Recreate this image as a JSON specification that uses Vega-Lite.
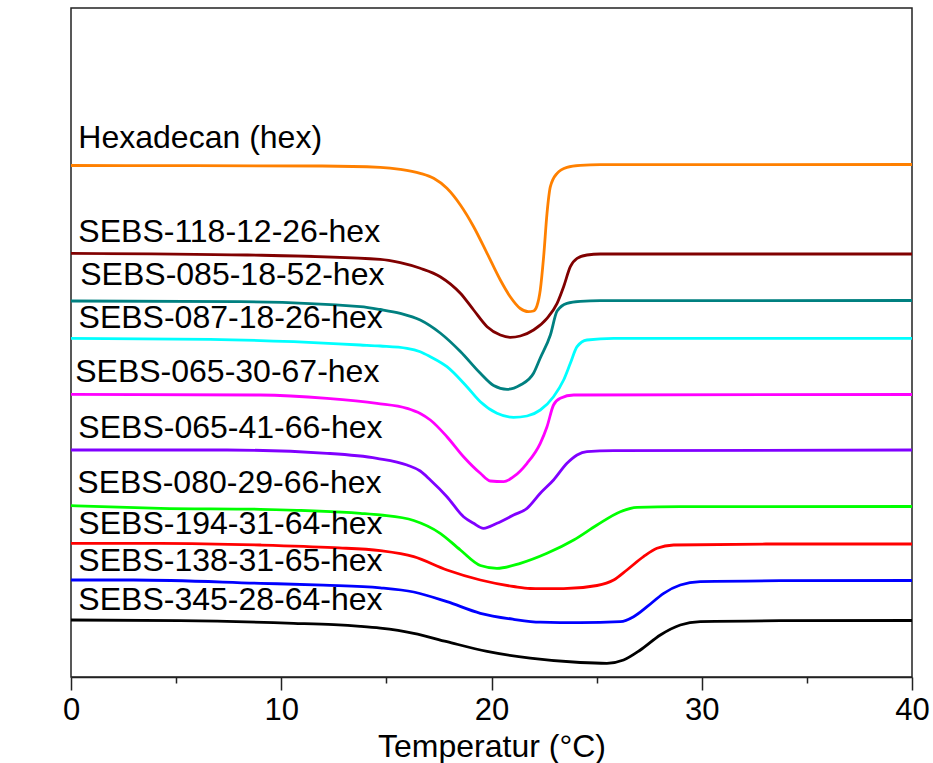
{
  "$schema": "https://vega.github.io/schema/vega-lite/v6.json",
  "width": 841,
  "height": 669,
  "autosize": {"type": "none"},
  "padding": {"left": 71, "top": 8, "right": 21, "bottom": 86},
  "background": "white",
  "config": {
    "view": {"stroke": "#222222", "strokeWidth": 1.5},
    "font": "Liberation Sans",
    "axis": {"grid": false, "domainColor": "#222222", "domainWidth": 1.5, "tickColor": "#222222", "tickWidth": 1.5}
  },
  "datasets": {
    "curves": [
      {"series": "hex", "t": 0, "v": 511.5}, {"series": "hex", "t": 5.2, "v": 511.3}, {"series": "hex", "t": 11.95, "v": 511}, {"series": "hex", "t": 14.71, "v": 509.7}, {"series": "hex", "t": 15.66, "v": 507.7}, {"series": "hex", "t": 16.61, "v": 503.7}, {"series": "hex", "t": 17.25, "v": 498.7}, {"series": "hex", "t": 17.88, "v": 488.7}, {"series": "hex", "t": 18.52, "v": 472}, {"series": "hex", "t": 19.15, "v": 450.3}, {"series": "hex", "t": 19.79, "v": 423.7}, {"series": "hex", "t": 20.42, "v": 397}, {"series": "hex", "t": 20.89, "v": 380.3}, {"series": "hex", "t": 21.37, "v": 368.5}, {"series": "hex", "t": 21.75, "v": 365.3}, {"series": "hex", "t": 22.0, "v": 366}, {"series": "hex", "t": 22.16, "v": 371}, {"series": "hex", "t": 22.32, "v": 387}, {"series": "hex", "t": 22.48, "v": 420.3}, {"series": "hex", "t": 22.64, "v": 463.7}, {"series": "hex", "t": 22.8, "v": 490.3}, {"series": "hex", "t": 23.12, "v": 503.7}, {"series": "hex", "t": 23.59, "v": 509.7}, {"series": "hex", "t": 24.22, "v": 511.7}, {"series": "hex", "t": 25.18, "v": 512.3}, {"series": "hex", "t": 40, "v": 512.5},

      {"series": "s118", "t": 0, "v": 423.7}, {"series": "s118", "t": 8.39, "v": 422}, {"series": "s118", "t": 14.71, "v": 417.7}, {"series": "s118", "t": 15.66, "v": 414.3}, {"series": "s118", "t": 16.61, "v": 408.7}, {"series": "s118", "t": 17.56, "v": 400.3}, {"series": "s118", "t": 18.52, "v": 383.7}, {"series": "s118", "t": 19.15, "v": 367}, {"series": "s118", "t": 19.79, "v": 350.3}, {"series": "s118", "t": 20.42, "v": 342}, {"series": "s118", "t": 20.89, "v": 339.7}, {"series": "s118", "t": 21.37, "v": 341}, {"series": "s118", "t": 22.0, "v": 347}, {"series": "s118", "t": 22.64, "v": 358.7}, {"series": "s118", "t": 23.12, "v": 373.7}, {"series": "s118", "t": 23.43, "v": 390.3}, {"series": "s118", "t": 23.75, "v": 410.3}, {"series": "s118", "t": 24.07, "v": 418.7}, {"series": "s118", "t": 24.54, "v": 422}, {"series": "s118", "t": 25.18, "v": 423}, {"series": "s118", "t": 40, "v": 423},

      {"series": "s085", "t": 0, "v": 376}, {"series": "s085", "t": 8.05, "v": 375.3}, {"series": "s085", "t": 13.76, "v": 370.3}, {"series": "s085", "t": 14.71, "v": 367.5}, {"series": "s085", "t": 15.66, "v": 363.7}, {"series": "s085", "t": 16.61, "v": 357}, {"series": "s085", "t": 17.56, "v": 344}, {"series": "s085", "t": 18.52, "v": 325.5}, {"series": "s085", "t": 19.47, "v": 303.7}, {"series": "s085", "t": 20.1, "v": 291.5}, {"series": "s085", "t": 20.74, "v": 287.7}, {"series": "s085", "t": 21.37, "v": 292}, {"series": "s085", "t": 22.0, "v": 303.7}, {"series": "s085", "t": 22.32, "v": 319}, {"series": "s085", "t": 22.8, "v": 342}, {"series": "s085", "t": 23.12, "v": 366}, {"series": "s085", "t": 23.59, "v": 373.7}, {"series": "s085", "t": 24.22, "v": 375.7}, {"series": "s085", "t": 25.18, "v": 376.3}, {"series": "s085", "t": 40, "v": 376.5},

      {"series": "s087", "t": 0, "v": 338.7}, {"series": "s087", "t": 6.62, "v": 337.7}, {"series": "s087", "t": 10.59, "v": 335.3}, {"series": "s087", "t": 13.76, "v": 332}, {"series": "s087", "t": 14.71, "v": 331}, {"series": "s087", "t": 15.98, "v": 328.7}, {"series": "s087", "t": 16.61, "v": 325.3}, {"series": "s087", "t": 17.09, "v": 320.3}, {"series": "s087", "t": 17.88, "v": 310.3}, {"series": "s087", "t": 18.83, "v": 290.3}, {"series": "s087", "t": 19.47, "v": 275.3}, {"series": "s087", "t": 20.26, "v": 263.7}, {"series": "s087", "t": 21.05, "v": 259.7}, {"series": "s087", "t": 21.69, "v": 261}, {"series": "s087", "t": 22.32, "v": 267}, {"series": "s087", "t": 22.95, "v": 280.3}, {"series": "s087", "t": 23.43, "v": 297}, {"series": "s087", "t": 23.75, "v": 313.7}, {"series": "s087", "t": 24.07, "v": 330.3}, {"series": "s087", "t": 24.54, "v": 337}, {"series": "s087", "t": 25.81, "v": 338.7}, {"series": "s087", "t": 40, "v": 338.7},

      {"series": "s065a", "t": 0, "v": 282.7}, {"series": "s065a", "t": 9.0, "v": 282}, {"series": "s065a", "t": 12.18, "v": 278.7}, {"series": "s065a", "t": 14.55, "v": 273.7}, {"series": "s065a", "t": 15.98, "v": 268.7}, {"series": "s065a", "t": 16.61, "v": 263.5}, {"series": "s065a", "t": 17.09, "v": 257}, {"series": "s065a", "t": 17.88, "v": 240.3}, {"series": "s065a", "t": 18.67, "v": 220.3}, {"series": "s065a", "t": 19.47, "v": 203.7}, {"series": "s065a", "t": 19.94, "v": 196}, {"series": "s065a", "t": 20.58, "v": 195.3}, {"series": "s065a", "t": 21.05, "v": 200.3}, {"series": "s065a", "t": 21.69, "v": 213.7}, {"series": "s065a", "t": 22.32, "v": 233.7}, {"series": "s065a", "t": 22.64, "v": 250.3}, {"series": "s065a", "t": 22.95, "v": 272}, {"series": "s065a", "t": 23.27, "v": 278.7}, {"series": "s065a", "t": 23.91, "v": 282}, {"series": "s065a", "t": 40, "v": 282.5},

      {"series": "s065b", "t": 0, "v": 227}, {"series": "s065b", "t": 7.42, "v": 227}, {"series": "s065b", "t": 12.18, "v": 223.7}, {"series": "s065b", "t": 14.55, "v": 218.7}, {"series": "s065b", "t": 15.98, "v": 212}, {"series": "s065b", "t": 16.61, "v": 206}, {"series": "s065b", "t": 17.09, "v": 197}, {"series": "s065b", "t": 17.88, "v": 180.3}, {"series": "s065b", "t": 18.67, "v": 160.3}, {"series": "s065b", "t": 19.15, "v": 153.7}, {"series": "s065b", "t": 19.62, "v": 148.7}, {"series": "s065b", "t": 20.26, "v": 153.7}, {"series": "s065b", "t": 21.05, "v": 162}, {"series": "s065b", "t": 21.69, "v": 168.7}, {"series": "s065b", "t": 22.32, "v": 183.7}, {"series": "s065b", "t": 22.95, "v": 197}, {"series": "s065b", "t": 23.59, "v": 213.7}, {"series": "s065b", "t": 24.07, "v": 222}, {"series": "s065b", "t": 24.54, "v": 225.3}, {"series": "s065b", "t": 25.81, "v": 226.3}, {"series": "s065b", "t": 40, "v": 227},

      {"series": "s080", "t": 0, "v": 171.3}, {"series": "s080", "t": 4.25, "v": 168.7}, {"series": "s080", "t": 9.0, "v": 167.7}, {"series": "s080", "t": 13.76, "v": 163.7}, {"series": "s080", "t": 14.71, "v": 162}, {"series": "s080", "t": 16.3, "v": 156.5}, {"series": "s080", "t": 17.56, "v": 143.7}, {"series": "s080", "t": 18.52, "v": 127}, {"series": "s080", "t": 19.47, "v": 111.5}, {"series": "s080", "t": 20.26, "v": 108.7}, {"series": "s080", "t": 21.37, "v": 113.7}, {"series": "s080", "t": 22.64, "v": 123.7}, {"series": "s080", "t": 23.91, "v": 137}, {"series": "s080", "t": 25.02, "v": 152}, {"series": "s080", "t": 26.13, "v": 165.3}, {"series": "s080", "t": 26.92, "v": 169.7}, {"series": "s080", "t": 28.98, "v": 170.3}, {"series": "s080", "t": 40, "v": 170.5},

      {"series": "s194", "t": 0, "v": 133.7}, {"series": "s194", "t": 4.25, "v": 133.7}, {"series": "s194", "t": 9.0, "v": 132}, {"series": "s194", "t": 12.5, "v": 129.3}, {"series": "s194", "t": 14.71, "v": 126.3}, {"series": "s194", "t": 16.3, "v": 120.3}, {"series": "s194", "t": 17.88, "v": 107}, {"series": "s194", "t": 19.47, "v": 97}, {"series": "s194", "t": 21.05, "v": 90.5}, {"series": "s194", "t": 21.84, "v": 88.5}, {"series": "s194", "t": 23.43, "v": 88.3}, {"series": "s194", "t": 25.02, "v": 91.5}, {"series": "s194", "t": 25.81, "v": 97}, {"series": "s194", "t": 26.44, "v": 107}, {"series": "s194", "t": 27.23, "v": 120.3}, {"series": "s194", "t": 27.87, "v": 128.7}, {"series": "s194", "t": 28.66, "v": 132}, {"series": "s194", "t": 33.74, "v": 133}, {"series": "s194", "t": 40, "v": 133},

      {"series": "s138", "t": 0, "v": 97}, {"series": "s138", "t": 2.98, "v": 97}, {"series": "s138", "t": 9.0, "v": 93.7}, {"series": "s138", "t": 12.0, "v": 91.8}, {"series": "s138", "t": 14.71, "v": 89.2}, {"series": "s138", "t": 16.3, "v": 85}, {"series": "s138", "t": 17.88, "v": 75.3}, {"series": "s138", "t": 19.47, "v": 63.7}, {"series": "s138", "t": 21.05, "v": 57.7}, {"series": "s138", "t": 22.32, "v": 54.8}, {"series": "s138", "t": 24.22, "v": 54.3}, {"series": "s138", "t": 26.13, "v": 55.3}, {"series": "s138", "t": 26.76, "v": 60.3}, {"series": "s138", "t": 27.4, "v": 70.3}, {"series": "s138", "t": 28.19, "v": 83.7}, {"series": "s138", "t": 28.98, "v": 92}, {"series": "s138", "t": 29.93, "v": 95.3}, {"series": "s138", "t": 33.74, "v": 96.3}, {"series": "s138", "t": 40, "v": 96.5},

      {"series": "s345", "t": 0, "v": 57}, {"series": "s345", "t": 5.2, "v": 56.3}, {"series": "s345", "t": 10.59, "v": 53.7}, {"series": "s345", "t": 12.5, "v": 52.3}, {"series": "s345", "t": 13.76, "v": 50.6}, {"series": "s345", "t": 14.71, "v": 48.8}, {"series": "s345", "t": 16.3, "v": 43.7}, {"series": "s345", "t": 17.88, "v": 35.3}, {"series": "s345", "t": 19.79, "v": 25.6}, {"series": "s345", "t": 21.84, "v": 18.9}, {"series": "s345", "t": 24.22, "v": 14.5}, {"series": "s345", "t": 25.49, "v": 13.7}, {"series": "s345", "t": 26.28, "v": 17}, {"series": "s345", "t": 27.08, "v": 27}, {"series": "s345", "t": 28.03, "v": 42}, {"series": "s345", "t": 28.98, "v": 52}, {"series": "s345", "t": 29.93, "v": 55.3}, {"series": "s345", "t": 33.74, "v": 56.3}, {"series": "s345", "t": 40, "v": 56.5}
    ],
    "labels": [
      {"label": "Hexadecan (hex)", "t": 0.35, "v": 528.7},
      {"label": "SEBS-118-12-26-hex", "t": 0.35, "v": 435.3},
      {"label": "SEBS-085-18-52-hex", "t": 0.44, "v": 392},
      {"label": "SEBS-087-18-26-hex", "t": 0.36, "v": 348.7},
      {"label": "SEBS-065-30-67-hex", "t": 0.2, "v": 295.3},
      {"label": "SEBS-065-41-66-hex", "t": 0.35, "v": 238.7},
      {"label": "SEBS-080-29-66-hex", "t": 0.3, "v": 183.7},
      {"label": "SEBS-194-31-64-hex", "t": 0.35, "v": 143},
      {"label": "SEBS-138-31-65-hex", "t": 0.35, "v": 106.3},
      {"label": "SEBS-345-28-64-hex", "t": 0.35, "v": 67}
    ]
  },
  "layer": [
    {
      "data": {"name": "curves"},
      "mark": {"type": "line", "interpolate": "monotone", "strokeWidth": 2.8},
      "encoding": {
        "x": {
          "field": "t", "type": "quantitative",
          "scale": {"domain": [0, 40], "nice": false, "zero": false},
          "axis": {
            "orient": "bottom",
            "values": [0, 10, 20, 30, 40],
            "tickSize": 13,
            "labelFontSize": 31,
            "labelColor": "black",
            "labelPadding": 5,
            "labelFlush": false,
            "title": "Temperatur (°C)",
            "titleFontSize": 32,
            "titleFontWeight": "normal",
            "titleColor": "black",
            "titleBaseline": "alphabetic",
            "titleY": 79
          }
        },
        "y": {
          "field": "v", "type": "quantitative",
          "scale": {"domain": [0, 669], "nice": false, "zero": false},
          "axis": {
            "ticks": false,
            "labels": false,
            "title": "exotherm -->",
            "titleFontSize": 32,
            "titleFontWeight": "normal",
            "titleColor": "black",
            "titleAngle": -90,
            "titleAlign": "center",
            "titleBaseline": "alphabetic",
            "titleX": -36,
            "titleY": 391
          }
        },
        "color": {
          "field": "series", "type": "nominal", "legend": null,
          "scale": {
            "domain": ["hex", "s118", "s085", "s087", "s065a", "s065b", "s080", "s194", "s138", "s345"],
            "range": ["#FF8000", "#800000", "#008080", "#00FFFF", "#FF00FF", "#8000FF", "#00FF00", "#FF0000", "#0000FF", "#000000"]
          }
        }
      }
    },
    {
      "data": {"name": "labels"},
      "mark": {"type": "text", "align": "left", "baseline": "alphabetic", "fontSize": 32, "color": "black"},
      "encoding": {
        "x": {
          "field": "t", "type": "quantitative",
          "axis": {
            "orient": "bottom",
            "values": [5, 15, 25, 35],
            "tickSize": 6,
            "labels": false,
            "domain": false,
            "title": null
          }
        },
        "y": {"field": "v", "type": "quantitative", "axis": null},
        "text": {"field": "label"}
      }
    }
  ],
  "resolve": {"axis": {"x": "independent"}}
}
